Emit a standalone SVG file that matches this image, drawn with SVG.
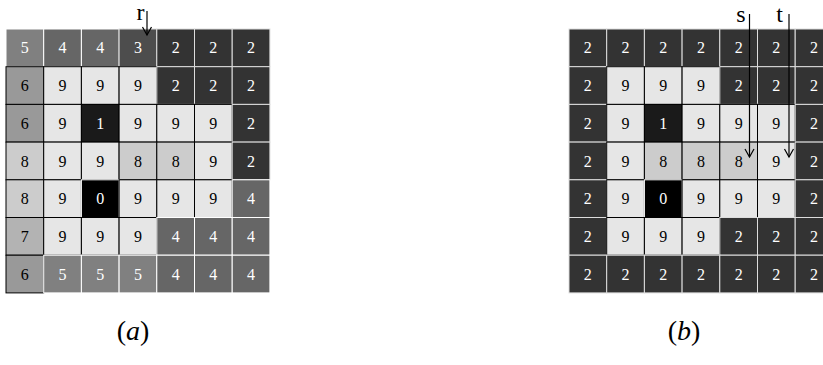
<svg xmlns="http://www.w3.org/2000/svg" width="823" height="365" viewBox="0 0 823 365">
<style>
rect{stroke-width:1}
.v0{fill:#000;stroke:#fff}.v1{fill:#1a1a1a;stroke:#000}.v2{fill:#333;stroke:#ddd}.v3{fill:#4d4d4d;stroke:#ddd}.v4{fill:#666;stroke:#fff}.v5{fill:#808080;stroke:#fff}
.v6{fill:#999;stroke:#000}.v7{fill:#b3b3b3;stroke:#000}.v8{fill:#ccc;stroke:#000}.v9{fill:#e6e6e6;stroke:#000}
text{font-family:"Liberation Serif","Times New Roman",serif;text-anchor:middle}
.n{font-size:16px}.w{fill:#fff}.k{fill:#000}
.lab{font-size:24px;fill:#000}
.cap{font-size:28px;fill:#000}
.ar{stroke:#000;stroke-width:1.2;fill:none}
</style>
<defs>
<marker id="ah" markerUnits="userSpaceOnUse" markerWidth="12" markerHeight="12" refX="0" refY="0" orient="auto" overflow="visible">
<path d="M-8,-4.5 L0,0 L-8,4.5" fill="none" stroke="#000" stroke-width="1.2"/>
</marker>
</defs>
<g id="grid-a">
<g id="a00"><rect class="v5" x="6" y="29" width="37.7" height="37.7"/><text class="n w" x="24.85" y="53.4">5</text></g>
<g id="a01"><rect class="v4" x="43.7" y="29" width="37.7" height="37.7"/><text class="n w" x="62.55" y="53.4">4</text></g>
<g id="a02"><rect class="v4" x="81.4" y="29" width="37.7" height="37.7"/><text class="n w" x="100.25" y="53.4">4</text></g>
<g id="a03"><rect class="v3" x="119.1" y="29" width="37.7" height="37.7"/><text class="n w" x="137.95" y="53.4">3</text></g>
<g id="a04"><rect class="v2" x="156.8" y="29" width="37.7" height="37.7"/><text class="n w" x="175.65" y="53.4">2</text></g>
<g id="a05"><rect class="v2" x="194.5" y="29" width="37.7" height="37.7"/><text class="n w" x="213.35" y="53.4">2</text></g>
<g id="a06"><rect class="v2" x="232.2" y="29" width="37.7" height="37.7"/><text class="n w" x="251.05" y="53.4">2</text></g>
<g id="a10"><rect class="v6" x="6" y="66.7" width="37.7" height="37.7"/><text class="n k" x="24.85" y="91.1">6</text></g>
<g id="a11"><rect class="v9" x="43.7" y="66.7" width="37.7" height="37.7"/><text class="n k" x="62.55" y="91.1">9</text></g>
<g id="a12"><rect class="v9" x="81.4" y="66.7" width="37.7" height="37.7"/><text class="n k" x="100.25" y="91.1">9</text></g>
<g id="a13"><rect class="v9" x="119.1" y="66.7" width="37.7" height="37.7"/><text class="n k" x="137.95" y="91.1">9</text></g>
<g id="a14"><rect class="v2" x="156.8" y="66.7" width="37.7" height="37.7"/><text class="n w" x="175.65" y="91.1">2</text></g>
<g id="a15"><rect class="v2" x="194.5" y="66.7" width="37.7" height="37.7"/><text class="n w" x="213.35" y="91.1">2</text></g>
<g id="a16"><rect class="v2" x="232.2" y="66.7" width="37.7" height="37.7"/><text class="n w" x="251.05" y="91.1">2</text></g>
<g id="a20"><rect class="v6" x="6" y="104.4" width="37.7" height="37.7"/><text class="n k" x="24.85" y="128.8">6</text></g>
<g id="a21"><rect class="v9" x="43.7" y="104.4" width="37.7" height="37.7"/><text class="n k" x="62.55" y="128.8">9</text></g>
<g id="a22"><rect class="v1" x="81.4" y="104.4" width="37.7" height="37.7"/><text class="n w" x="100.25" y="128.8">1</text></g>
<g id="a23"><rect class="v9" x="119.1" y="104.4" width="37.7" height="37.7"/><text class="n k" x="137.95" y="128.8">9</text></g>
<g id="a24"><rect class="v9" x="156.8" y="104.4" width="37.7" height="37.7"/><text class="n k" x="175.65" y="128.8">9</text></g>
<g id="a25"><rect class="v9" x="194.5" y="104.4" width="37.7" height="37.7"/><text class="n k" x="213.35" y="128.8">9</text></g>
<g id="a26"><rect class="v2" x="232.2" y="104.4" width="37.7" height="37.7"/><text class="n w" x="251.05" y="128.8">2</text></g>
<g id="a30"><rect class="v8" x="6" y="142.1" width="37.7" height="37.7"/><text class="n k" x="24.85" y="166.5">8</text></g>
<g id="a31"><rect class="v9" x="43.7" y="142.1" width="37.7" height="37.7"/><text class="n k" x="62.55" y="166.5">9</text></g>
<g id="a32"><rect class="v9" x="81.4" y="142.1" width="37.7" height="37.7"/><text class="n k" x="100.25" y="166.5">9</text></g>
<g id="a33"><rect class="v8" x="119.1" y="142.1" width="37.7" height="37.7"/><text class="n k" x="137.95" y="166.5">8</text></g>
<g id="a34"><rect class="v8" x="156.8" y="142.1" width="37.7" height="37.7"/><text class="n k" x="175.65" y="166.5">8</text></g>
<g id="a35"><rect class="v9" x="194.5" y="142.1" width="37.7" height="37.7"/><text class="n k" x="213.35" y="166.5">9</text></g>
<g id="a36"><rect class="v2" x="232.2" y="142.1" width="37.7" height="37.7"/><text class="n w" x="251.05" y="166.5">2</text></g>
<g id="a40"><rect class="v8" x="6" y="179.8" width="37.7" height="37.7"/><text class="n k" x="24.85" y="204.2">8</text></g>
<g id="a41"><rect class="v9" x="43.7" y="179.8" width="37.7" height="37.7"/><text class="n k" x="62.55" y="204.2">9</text></g>
<g id="a42"><rect class="v0" x="81.4" y="179.8" width="37.7" height="37.7"/><text class="n w" x="100.25" y="204.2">0</text></g>
<g id="a43"><rect class="v9" x="119.1" y="179.8" width="37.7" height="37.7"/><text class="n k" x="137.95" y="204.2">9</text></g>
<g id="a44"><rect class="v9" x="156.8" y="179.8" width="37.7" height="37.7"/><text class="n k" x="175.65" y="204.2">9</text></g>
<g id="a45"><rect class="v9" x="194.5" y="179.8" width="37.7" height="37.7"/><text class="n k" x="213.35" y="204.2">9</text></g>
<g id="a46"><rect class="v4" x="232.2" y="179.8" width="37.7" height="37.7"/><text class="n w" x="251.05" y="204.2">4</text></g>
<g id="a50"><rect class="v7" x="6" y="217.5" width="37.7" height="37.7"/><text class="n k" x="24.85" y="241.9">7</text></g>
<g id="a51"><rect class="v9" x="43.7" y="217.5" width="37.7" height="37.7"/><text class="n k" x="62.55" y="241.9">9</text></g>
<g id="a52"><rect class="v9" x="81.4" y="217.5" width="37.7" height="37.7"/><text class="n k" x="100.25" y="241.9">9</text></g>
<g id="a53"><rect class="v9" x="119.1" y="217.5" width="37.7" height="37.7"/><text class="n k" x="137.95" y="241.9">9</text></g>
<g id="a54"><rect class="v4" x="156.8" y="217.5" width="37.7" height="37.7"/><text class="n w" x="175.65" y="241.9">4</text></g>
<g id="a55"><rect class="v4" x="194.5" y="217.5" width="37.7" height="37.7"/><text class="n w" x="213.35" y="241.9">4</text></g>
<g id="a56"><rect class="v4" x="232.2" y="217.5" width="37.7" height="37.7"/><text class="n w" x="251.05" y="241.9">4</text></g>
<g id="a60"><rect class="v6" x="6" y="255.2" width="37.7" height="37.7"/><text class="n k" x="24.85" y="279.6">6</text></g>
<g id="a61"><rect class="v5" x="43.7" y="255.2" width="37.7" height="37.7"/><text class="n w" x="62.55" y="279.6">5</text></g>
<g id="a62"><rect class="v5" x="81.4" y="255.2" width="37.7" height="37.7"/><text class="n w" x="100.25" y="279.6">5</text></g>
<g id="a63"><rect class="v5" x="119.1" y="255.2" width="37.7" height="37.7"/><text class="n w" x="137.95" y="279.6">5</text></g>
<g id="a64"><rect class="v4" x="156.8" y="255.2" width="37.7" height="37.7"/><text class="n w" x="175.65" y="279.6">4</text></g>
<g id="a65"><rect class="v4" x="194.5" y="255.2" width="37.7" height="37.7"/><text class="n w" x="213.35" y="279.6">4</text></g>
<g id="a66"><rect class="v4" x="232.2" y="255.2" width="37.7" height="37.7"/><text class="n w" x="251.05" y="279.6">4</text></g>
</g>
<g id="grid-b">
<g id="b00"><rect class="v2" x="569" y="29" width="37.7" height="37.7"/><text class="n w" x="587.85" y="53.4">2</text></g>
<g id="b01"><rect class="v2" x="606.7" y="29" width="37.7" height="37.7"/><text class="n w" x="625.55" y="53.4">2</text></g>
<g id="b02"><rect class="v2" x="644.4" y="29" width="37.7" height="37.7"/><text class="n w" x="663.25" y="53.4">2</text></g>
<g id="b03"><rect class="v2" x="682.1" y="29" width="37.7" height="37.7"/><text class="n w" x="700.95" y="53.4">2</text></g>
<g id="b04"><rect class="v2" x="719.8" y="29" width="37.7" height="37.7"/><text class="n w" x="738.65" y="53.4">2</text></g>
<g id="b05"><rect class="v2" x="757.5" y="29" width="37.7" height="37.7"/><text class="n w" x="776.35" y="53.4">2</text></g>
<g id="b06"><rect class="v2" x="795.2" y="29" width="37.7" height="37.7"/><text class="n w" x="814.05" y="53.4">2</text></g>
<g id="b10"><rect class="v2" x="569" y="66.7" width="37.7" height="37.7"/><text class="n w" x="587.85" y="91.1">2</text></g>
<g id="b11"><rect class="v9" x="606.7" y="66.7" width="37.7" height="37.7"/><text class="n k" x="625.55" y="91.1">9</text></g>
<g id="b12"><rect class="v9" x="644.4" y="66.7" width="37.7" height="37.7"/><text class="n k" x="663.25" y="91.1">9</text></g>
<g id="b13"><rect class="v9" x="682.1" y="66.7" width="37.7" height="37.7"/><text class="n k" x="700.95" y="91.1">9</text></g>
<g id="b14"><rect class="v2" x="719.8" y="66.7" width="37.7" height="37.7"/><text class="n w" x="738.65" y="91.1">2</text></g>
<g id="b15"><rect class="v2" x="757.5" y="66.7" width="37.7" height="37.7"/><text class="n w" x="776.35" y="91.1">2</text></g>
<g id="b16"><rect class="v2" x="795.2" y="66.7" width="37.7" height="37.7"/><text class="n w" x="814.05" y="91.1">2</text></g>
<g id="b20"><rect class="v2" x="569" y="104.4" width="37.7" height="37.7"/><text class="n w" x="587.85" y="128.8">2</text></g>
<g id="b21"><rect class="v9" x="606.7" y="104.4" width="37.7" height="37.7"/><text class="n k" x="625.55" y="128.8">9</text></g>
<g id="b22"><rect class="v1" x="644.4" y="104.4" width="37.7" height="37.7"/><text class="n w" x="663.25" y="128.8">1</text></g>
<g id="b23"><rect class="v9" x="682.1" y="104.4" width="37.7" height="37.7"/><text class="n k" x="700.95" y="128.8">9</text></g>
<g id="b24"><rect class="v9" x="719.8" y="104.4" width="37.7" height="37.7"/><text class="n k" x="738.65" y="128.8">9</text></g>
<g id="b25"><rect class="v9" x="757.5" y="104.4" width="37.7" height="37.7"/><text class="n k" x="776.35" y="128.8">9</text></g>
<g id="b26"><rect class="v2" x="795.2" y="104.4" width="37.7" height="37.7"/><text class="n w" x="814.05" y="128.8">2</text></g>
<g id="b30"><rect class="v2" x="569" y="142.1" width="37.7" height="37.7"/><text class="n w" x="587.85" y="166.5">2</text></g>
<g id="b31"><rect class="v9" x="606.7" y="142.1" width="37.7" height="37.7"/><text class="n k" x="625.55" y="166.5">9</text></g>
<g id="b32"><rect class="v8" x="644.4" y="142.1" width="37.7" height="37.7"/><text class="n k" x="663.25" y="166.5">8</text></g>
<g id="b33"><rect class="v8" x="682.1" y="142.1" width="37.7" height="37.7"/><text class="n k" x="700.95" y="166.5">8</text></g>
<g id="b34"><rect class="v8" x="719.8" y="142.1" width="37.7" height="37.7"/><text class="n k" x="738.65" y="166.5">8</text></g>
<g id="b35"><rect class="v9" x="757.5" y="142.1" width="37.7" height="37.7"/><text class="n k" x="776.35" y="166.5">9</text></g>
<g id="b36"><rect class="v2" x="795.2" y="142.1" width="37.7" height="37.7"/><text class="n w" x="814.05" y="166.5">2</text></g>
<g id="b40"><rect class="v2" x="569" y="179.8" width="37.7" height="37.7"/><text class="n w" x="587.85" y="204.2">2</text></g>
<g id="b41"><rect class="v9" x="606.7" y="179.8" width="37.7" height="37.7"/><text class="n k" x="625.55" y="204.2">9</text></g>
<g id="b42"><rect class="v0" x="644.4" y="179.8" width="37.7" height="37.7"/><text class="n w" x="663.25" y="204.2">0</text></g>
<g id="b43"><rect class="v9" x="682.1" y="179.8" width="37.7" height="37.7"/><text class="n k" x="700.95" y="204.2">9</text></g>
<g id="b44"><rect class="v9" x="719.8" y="179.8" width="37.7" height="37.7"/><text class="n k" x="738.65" y="204.2">9</text></g>
<g id="b45"><rect class="v9" x="757.5" y="179.8" width="37.7" height="37.7"/><text class="n k" x="776.35" y="204.2">9</text></g>
<g id="b46"><rect class="v2" x="795.2" y="179.8" width="37.7" height="37.7"/><text class="n w" x="814.05" y="204.2">2</text></g>
<g id="b50"><rect class="v2" x="569" y="217.5" width="37.7" height="37.7"/><text class="n w" x="587.85" y="241.9">2</text></g>
<g id="b51"><rect class="v9" x="606.7" y="217.5" width="37.7" height="37.7"/><text class="n k" x="625.55" y="241.9">9</text></g>
<g id="b52"><rect class="v9" x="644.4" y="217.5" width="37.7" height="37.7"/><text class="n k" x="663.25" y="241.9">9</text></g>
<g id="b53"><rect class="v9" x="682.1" y="217.5" width="37.7" height="37.7"/><text class="n k" x="700.95" y="241.9">9</text></g>
<g id="b54"><rect class="v2" x="719.8" y="217.5" width="37.7" height="37.7"/><text class="n w" x="738.65" y="241.9">2</text></g>
<g id="b55"><rect class="v2" x="757.5" y="217.5" width="37.7" height="37.7"/><text class="n w" x="776.35" y="241.9">2</text></g>
<g id="b56"><rect class="v2" x="795.2" y="217.5" width="37.7" height="37.7"/><text class="n w" x="814.05" y="241.9">2</text></g>
<g id="b60"><rect class="v2" x="569" y="255.2" width="37.7" height="37.7"/><text class="n w" x="587.85" y="279.6">2</text></g>
<g id="b61"><rect class="v2" x="606.7" y="255.2" width="37.7" height="37.7"/><text class="n w" x="625.55" y="279.6">2</text></g>
<g id="b62"><rect class="v2" x="644.4" y="255.2" width="37.7" height="37.7"/><text class="n w" x="663.25" y="279.6">2</text></g>
<g id="b63"><rect class="v2" x="682.1" y="255.2" width="37.7" height="37.7"/><text class="n w" x="700.95" y="279.6">2</text></g>
<g id="b64"><rect class="v2" x="719.8" y="255.2" width="37.7" height="37.7"/><text class="n w" x="738.65" y="279.6">2</text></g>
<g id="b65"><rect class="v2" x="757.5" y="255.2" width="37.7" height="37.7"/><text class="n w" x="776.35" y="279.6">2</text></g>
<g id="b66"><rect class="v2" x="795.2" y="255.2" width="37.7" height="37.7"/><text class="n w" x="814.05" y="279.6">2</text></g>
</g>
<g id="connectors">
<line class="ar" x1="147" y1="11" x2="147" y2="35" marker-end="url(#ah)"/>
<line class="ar" x1="749.5" y1="14" x2="749.5" y2="157" marker-end="url(#ah)"/>
<line class="ar" x1="789" y1="14" x2="789" y2="157" marker-end="url(#ah)"/>
</g>
<g id="labels">
<text class="lab" x="140.5" y="20" font-size="22">r</text>
<text class="lab" x="741" y="22">s</text>
<text class="lab" x="779.5" y="22">t</text>
<text class="cap" x="133" y="340">(<tspan font-style="italic">a</tspan>)</text>
<text class="cap" x="684" y="340">(<tspan font-style="italic">b</tspan>)</text>
</g>
</svg>
